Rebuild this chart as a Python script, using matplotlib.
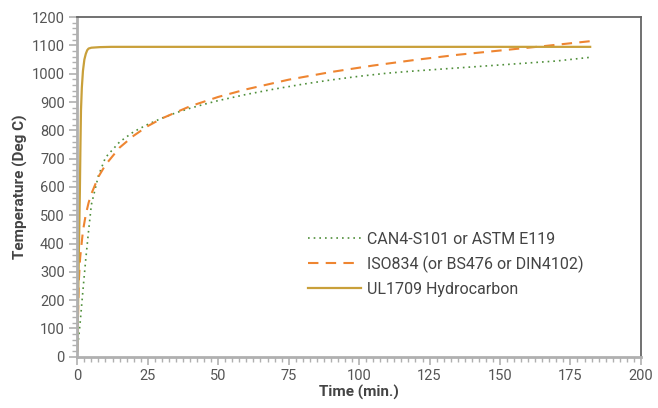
import matplotlib
matplotlib.use("Agg")
import matplotlib.pyplot as plt
from matplotlib.ticker import MultipleLocator

plt.rcParams['font.family'] = ['Roboto', 'DejaVu Sans']

# CAN4-S101 / ASTM E119
e119_t = [0, 1, 2, 3, 4, 5, 7.5, 10, 15, 20, 25, 30, 35, 40, 45, 50, 55, 60, 70, 80, 90,
          100, 110, 120, 130, 140, 150, 160, 170, 182]
e119_T = [20, 120, 235, 345, 445, 538, 640, 704, 759, 795, 821, 843, 862, 878, 892, 905, 916,
          927, 946, 963, 978, 991, 1002, 1010, 1017, 1024, 1031, 1038, 1045, 1058]

# ISO834
iso_t = [0, 0.5, 1, 2, 3, 4, 5, 7.5, 10, 15, 20, 25, 30, 40, 50, 60, 75, 90, 105, 120,
         135, 150, 165, 182]
iso_T = [20, 261, 349, 445, 502, 544, 576, 636, 678, 739, 781, 815, 842, 885, 918, 945,
         979, 1006, 1029, 1049, 1067, 1082, 1097, 1115]

# UL1709 Hydrocarbon
ul_t = [0, 0.3, 0.6, 0.9, 1.1, 1.3, 1.6, 2.0, 2.5, 3.0, 3.5, 4.0, 5.0, 8.0, 12.0, 182]
ul_T = [20, 200, 400, 580, 740, 870, 950, 1010, 1050, 1070, 1083, 1089, 1092, 1094, 1095, 1095]

labels = ['CAN4-S101 or ASTM E119', 'ISO834 (or BS476 or DIN4102)', 'UL1709 Hydrocarbon']
x_ticks = [0, 25, 50, 75, 100, 125, 150, 175, 200]
y_ticks = list(range(0, 1201, 100))

fig = plt.figure(figsize=(6.58, 4.08), dpi=100)
ax = fig.add_axes([0.1175, 0.1257, 0.8565, 0.8323])

ax.plot(e119_t, e119_T, color='#4f8f3a', linestyle=(0, (1, 2.4)), linewidth=1.2, label=labels[0])
ax.plot(iso_t, iso_T, color='#ee8531', linestyle=(0, (5, 3.5)), linewidth=1.5, label=labels[1])
ax.plot(ul_t, ul_T, color='#c9a03a', linestyle='-', linewidth=1.6, label=labels[2])

ax.set_xlim(0, 200)
ax.set_ylim(0, 1200)
ax.set_xticks(x_ticks)
ax.set_yticks(y_ticks)
ax.xaxis.set_minor_locator(MultipleLocator(2.5))
ax.yaxis.set_minor_locator(MultipleLocator(20))

for s in ['top', 'right']:
    ax.spines[s].set_color('#666666')
    ax.spines[s].set_linewidth(1.3)
for s in ['left', 'bottom']:
    ax.spines[s].set_color('#b0b0b0')
    ax.spines[s].set_linewidth(2)

ax.tick_params(axis='both', which='major', length=6, width=1.2, color='#b0b0b0',
               labelsize=10.5, labelcolor='#555555', pad=3)
ax.tick_params(axis='both', which='minor', length=3.5, width=1.0, color='#b0b0b0')

ax.set_xlabel('Time (min.)', fontsize=11, fontweight='bold', color='#444444', labelpad=1)
ax.set_ylabel('Temperature (Deg C)', fontsize=11, fontweight='bold', color='#444444', labelpad=3)

leg = ax.legend(loc='upper left', bbox_to_anchor=(0.384, 0.41), frameon=False,
                fontsize=11.5, handlelength=3.3, handletextpad=0.4, labelspacing=0.55)
for t in leg.get_texts():
    t.set_color('#444444')

fig.savefig('out.png', dpi=100)
